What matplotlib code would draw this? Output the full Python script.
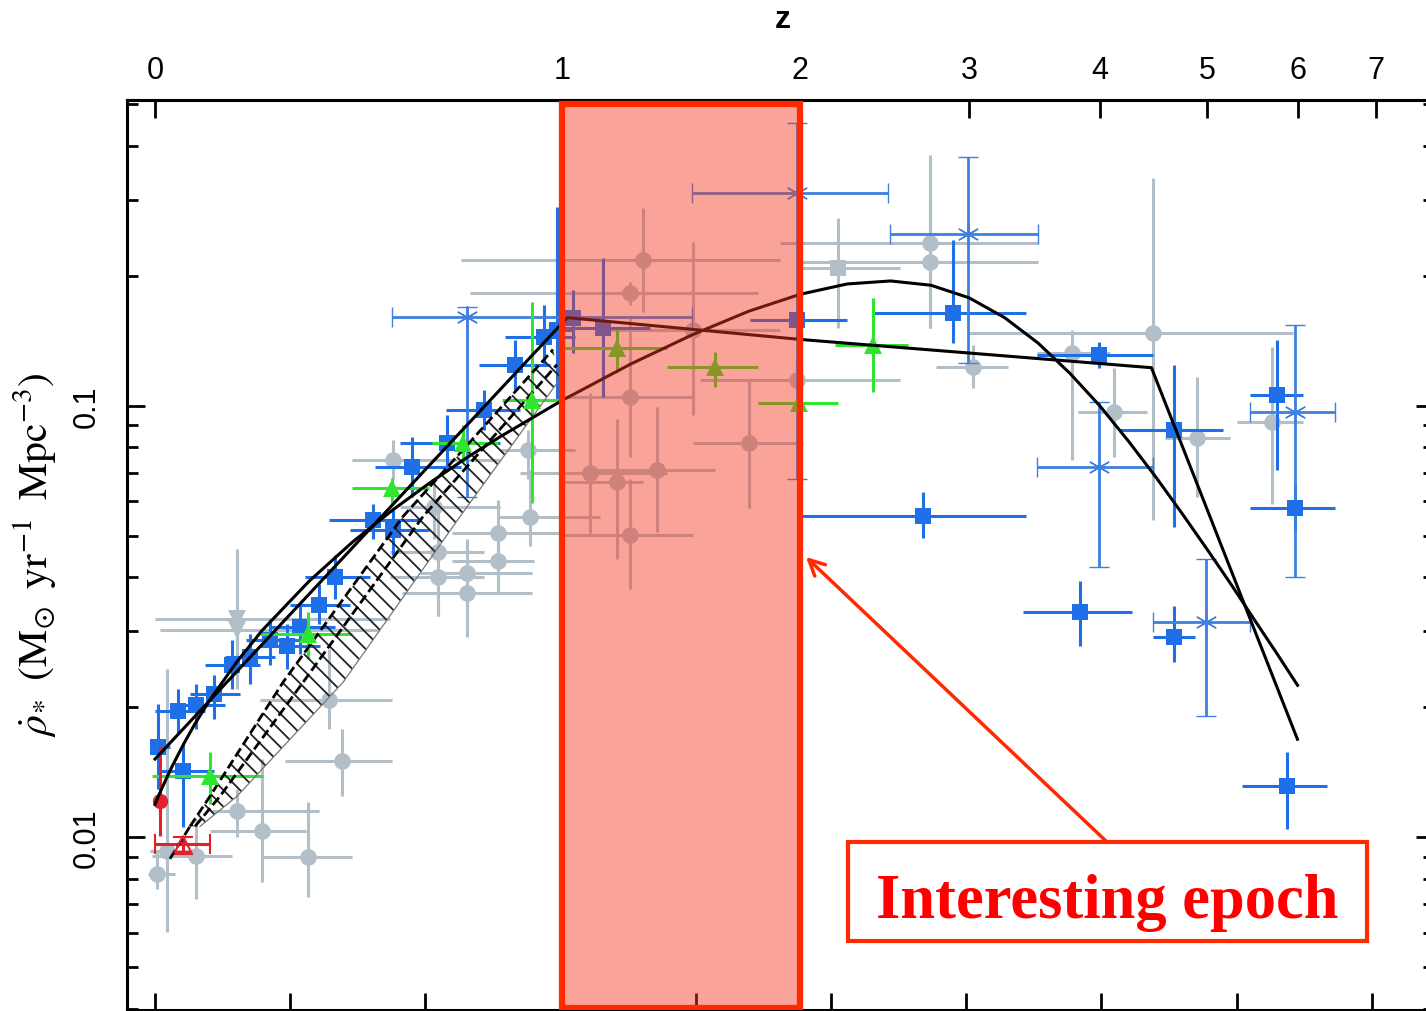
import numpy as np
import matplotlib
matplotlib.use("Agg")
import matplotlib.pyplot as plt
import matplotlib.transforms as mtransforms
from matplotlib.patches import Rectangle
from matplotlib.ticker import LogLocator, NullFormatter, FixedLocator

plt.rcParams['font.family'] = ['Liberation Sans', 'DejaVu Sans']
plt.rcParams['mathtext.fontset'] = 'stix'
plt.rcParams['hatch.linewidth'] = 1.3

# columns: log10(1+z), lower, upper, log10(rho_sfr), upper, lower
blue_sq = np.array([
    [0.002, -0.004, 0.011, -1.792, -1.692, -1.889],
    [0.021, 0.004, 0.044, -1.847, -1.785, -1.977],
    [0.017, 0.000, 0.037, -1.708, -1.657, -1.762],
    [0.030, 0.011, 0.052, -1.694, -1.646, -1.750],
    [0.044, 0.026, 0.063, -1.669, -1.623, -1.727],
    [0.057, 0.037, 0.078, -1.600, -1.542, -1.657],
    [0.070, 0.052, 0.089, -1.583, -1.530, -1.646],
    [0.085, 0.067, 0.107, -1.542, -1.495, -1.600],
    [0.098, 0.078, 0.122, -1.558, -1.507, -1.611],
    [0.107, 0.085, 0.133, -1.514, -1.461, -1.576],
    [0.121, 0.100, 0.144, -1.461, -1.414, -1.507],
    [0.133, 0.111, 0.159, -1.398, -1.345, -1.449],
    [0.161, 0.129, 0.196, -1.264, -1.229, -1.310],
    [0.176, 0.144, 0.203, -1.287, -1.241, -1.345],
    [0.190, 0.163, 0.226, -1.141, -1.072, -1.211],
    [0.216, 0.181, 0.255, -1.086, -1.021, -1.148],
    [0.243, 0.215, 0.270, -1.009, -0.963, -1.056],
    [0.266, 0.240, 0.292, -0.905, -0.847, -0.963],
    [0.288, 0.259, 0.311, -0.840, -0.766, -0.905],
    [0.297, 0.285, 0.310, -0.824, -0.539, -0.986],
    [0.309, 0.300, 0.329, -0.796, -0.732, -0.877],
    [0.331, 0.300, 0.366, -0.819, -0.657, -0.979],
    [0.475, 0.440, 0.512, -0.801, -0.773, -0.840],
    [0.590, 0.531, 0.644, -0.785, -0.616, -0.854],
    [0.698, 0.652, 0.738, -0.882, -0.852, -0.912],
    [0.754, 0.714, 0.790, -1.056, -0.905, -1.282],
    [0.830, 0.810, 0.849, -0.975, -0.847, -1.148],
    [0.843, 0.810, 0.873, -1.236, -1.183, -1.287],
    [0.568, 0.477, 0.644, -1.255, -1.201, -1.306],
    [0.684, 0.642, 0.723, -1.477, -1.407, -1.558],
    [0.754, 0.738, 0.769, -1.535, -1.465, -1.595],
    [0.837, 0.804, 0.867, -1.882, -1.803, -1.981],
])

blue_star = np.array([
    [0.231, 0.175, 0.397, -0.794, -0.771, -1.211],
    [0.475, 0.397, 0.542, -0.507, -0.345, -1.171],
    [0.601, 0.544, 0.653, -0.602, -0.424, -0.900],
    [0.698, 0.652, 0.738, -1.141, -0.991, -1.375],
    [0.843, 0.810, 0.873, -1.014, -0.813, -1.398],
    [0.777, 0.738, 0.810, -1.502, -1.356, -1.720],
])

green_tri = np.array([
    [0.041, -0.002, 0.080, -1.859, -1.803, -1.924],
    [0.113, 0.078, 0.146, -1.530, -1.477, -1.588],
    [0.175, 0.146, 0.203, -1.190, -1.167, -1.229],
    [0.228, 0.205, 0.254, -1.086, -1.044, -1.130],
    [0.279, 0.257, 0.300, -0.986, -0.759, -1.225],
    [0.342, 0.300, 0.379, -0.866, -0.824, -0.921],
    [0.414, 0.379, 0.446, -0.910, -0.875, -0.956],
    [0.476, 0.446, 0.505, -0.993, -0.870, -1.113],
    [0.531, 0.503, 0.557, -0.859, -0.750, -0.968],
])

red_circ = np.array([
    [0.004, 0.000, 0.007, -1.917, -1.789, -1.998],
])
red_tri = np.array([
    [0.021, 0.000, 0.041, -2.016, -2.000, -2.039],
])

gray_circ = np.array([
    [0.0015, -0.005, 0.015, -2.086, -2.035, -2.120],
    [0.030, -0.002, 0.057, -2.044, -1.958, -2.144],
    [0.009, -0.004, 0.033, -2.032, -1.611, -2.220],
    [0.061, 0.041, 0.121, -1.940, -1.889, -2.000],
    [0.079, 0.041, 0.112, -1.986, -1.819, -2.104],
    [0.113, 0.079, 0.146, -2.046, -1.919, -2.139],
    [0.138, 0.096, 0.175, -1.824, -1.750, -1.905],
    [0.129, 0.078, 0.175, -1.681, -1.565, -1.750],
    [0.176, 0.146, 0.255, -1.125, -1.079, -1.171],
    [0.209, 0.174, 0.243, -1.340, -1.234, -1.488],
    [0.209, 0.174, 0.243, -1.396, -1.310, -1.488],
    [0.206, 0.181, 0.255, -1.234, -1.171, -1.310],
    [0.231, 0.196, 0.279, -1.387, -1.310, -1.472],
    [0.231, 0.183, 0.279, -1.433, -1.356, -1.535],
    [0.254, 0.220, 0.300, -1.294, -1.218, -1.403],
    [0.254, 0.220, 0.280, -1.361, -1.280, -1.433],
    [0.277, 0.253, 0.329, -1.257, -1.148, -1.326],
    [0.276, 0.255, 0.311, -1.102, -1.056, -1.171],
    [0.361, 0.226, 0.462, -0.662, -0.542, -0.782],
    [0.351, 0.233, 0.446, -0.738, -0.713, -0.766],
    [0.351, 0.300, 0.397, -0.979, -0.796, -1.120],
    [0.322, 0.270, 0.379, -1.155, -0.970, -1.294],
    [0.342, 0.300, 0.361, -1.178, -1.032, -1.356],
    [0.371, 0.322, 0.414, -1.148, -1.002, -1.292],
    [0.351, 0.300, 0.398, -1.299, -1.171, -1.426],
    [0.439, 0.398, 0.479, -1.086, -0.940, -1.236],
    [0.475, 0.403, 0.551, -0.940, -0.882, -0.986],
    [0.398, 0.329, 0.462, -0.824, -0.620, -1.021],
    [0.573, 0.462, 0.653, -0.623, -0.419, -0.819],
    [0.573, 0.477, 0.653, -0.667, -0.516, -0.819],
    [0.738, 0.601, 0.842, -0.831, -0.472, -1.264],
    [0.605, 0.578, 0.631, -0.910, -0.859, -0.958],
    [0.678, 0.652, 0.706, -0.877, -0.824, -1.125],
    [0.709, 0.683, 0.734, -1.014, -0.912, -1.120],
    [0.771, 0.747, 0.795, -1.074, -0.933, -1.211],
    [0.826, 0.800, 0.849, -1.037, -0.863, -1.229],
])
gray_sq = np.array([
    [0.505, 0.477, 0.551, -0.681, -0.565, -0.819],
])
gray_tri = np.array([
    [0.061, 0.000, 0.174, -1.495, -1.333, -1.657],
    [0.061, 0.004, 0.166, -1.519, -1.472, -1.565],
])

# broken power-law fit
fit_broken_lz = [0.000, 0.305, 0.479, 0.737, 0.845]
fit_broken_lr = [-1.819, -0.796, -0.847, -0.912, -1.773]

# smooth fit
fit_smooth_lz = [0.000, 0.0043, 0.0086, 0.0128, 0.0212, 0.0294, 0.0414, 0.0607, 0.0792,
                 0.1139, 0.1461, 0.1761, 0.2041, 0.2304, 0.2553, 0.3010, 0.3522, 0.3979,
                 0.4393, 0.4771, 0.5119, 0.5441, 0.5740, 0.6021, 0.6284, 0.6532, 0.6767,
                 0.6990, 0.7202, 0.7404, 0.7597, 0.7782, 0.7959, 0.8129, 0.8293, 0.8451]
fit_smooth_lr = [-1.924, -1.892, -1.863, -1.835, -1.784, -1.738, -1.678, -1.593, -1.521,
                 -1.407, -1.316, -1.241, -1.177, -1.121, -1.072, -0.988, -0.903, -0.835,
                 -0.781, -0.742, -0.718, -0.711, -0.721, -0.750, -0.796, -0.855, -0.925,
                 -1.001, -1.083, -1.166, -1.250, -1.333, -1.414, -1.495, -1.572, -1.648]

# hatched band: two dashed upper lines and the lower edge
band_up_lz = [0.0259, 0.0407, 0.0947, 0.1834, 0.2944]
band_up_lr = [-1.975, -1.905, -1.641, -1.257, -0.870]
band_mid_lz = [0.0296, 0.0481, 0.1095, 0.1982, 0.2973]
band_mid_lr = [-1.975, -1.905, -1.641, -1.257, -0.905]
band_lo_lz = [0.0333, 0.0607, 0.1391, 0.2256, 0.2722, 0.2996]
band_lo_lr = [-1.975, -1.905, -1.641, -1.257, -1.056, -0.938]
band_tail_lz = [0.0111, 0.0259]
band_tail_lr = [-2.050, -1.975]

z_ticks = [0, 1, 2, 3, 4, 5, 6, 7]
epoch = (1.0, 2.0)

W, H = 1426, 1012
fig = plt.figure(figsize=(W / 100, H / 100), dpi=100)
ax = fig.add_axes([127 / W, 1 / H, 1307 / W, 910 / H])
ax.set_yscale('log')
ax.set_xlim((127 - 155) / 1352, (1434 - 155) / 1352)
ax.set_ylim(10 ** (-1 - (1011 - 406) / 432), 10 ** (-1 + (406 - 100) / 432))


def points(rows, color, marker, ms, zorder, mew=0, elw=2.2, mfc=None):
    lz, lz_lo, lz_hi, lr, lr_hi, lr_lo = rows.T
    rho = 10 ** lr
    ax.errorbar(lz, rho, xerr=[lz - lz_lo, lz_hi - lz],
                yerr=[rho - 10 ** lr_lo, 10 ** lr_hi - rho],
                fmt='', marker=marker, ls='none', ms=ms, color=color,
                mfc=mfc or color, mec=color, mew=mew,
                elinewidth=elw, capsize=7, capthick=elw, zorder=zorder)


gray = '#b3bfc8'
blue = '#1f6fe8'
green = '#2fe62f'
points(gray_circ, gray, 'o', 12, 2)
points(gray_sq, gray, 's', 11, 2)
points(gray_tri, gray, 'v', 13, 2)
points(blue_sq, blue, 's', 11, 3)
points(blue_star, '#3d80e0', (6, 2, 0), 16, 3, mew=1.0, elw=2.0, mfc='none')
points(green_tri, green, '^', 13, 4)
points(red_circ, '#e5202a', 'o', 11, 4)
points(red_tri, '#e5202a', '^', 11, 4, mfc='none', mew=1.5)

# hatched band
bx = np.r_[band_up_lz, band_lo_lz[::-1]]
by = 10 ** np.r_[band_up_lr, band_lo_lr[::-1]]
ax.fill(bx, by, facecolor='none', edgecolor='#222222', hatch='\\\\', lw=0, zorder=4)
ax.plot(band_lo_lz, 10 ** np.array(band_lo_lr), color='#777777', lw=0.9, zorder=4)
for bz, br in [(band_up_lz, band_up_lr), (band_mid_lz, band_mid_lr), (band_tail_lz, band_tail_lr)]:
    ax.plot(bz, 10 ** np.array(br), color='black', lw=2, ls=(0, (3.5, 1.5)), zorder=4)

ax.plot(fit_broken_lz, 10 ** np.array(fit_broken_lr), color='black', lw=2.2, zorder=5)
ax.plot(fit_smooth_lz, 10 ** np.array(fit_smooth_lr), color='black', lw=2.2, zorder=5)

# epoch box
trans = mtransforms.blended_transform_factory(ax.transData, ax.transAxes)
x0, x1 = np.log10(1 + epoch[0]), np.log10(1 + epoch[1])
ax.add_patch(Rectangle((x0, 0.002), x1 - x0, 0.994, transform=trans,
                       facecolor=(0.95, 0.22, 0.13), alpha=0.46, lw=0, zorder=6))
ax.add_patch(Rectangle((x0, 0.002), x1 - x0, 0.994, transform=trans,
                       facecolor='none', edgecolor='#ff2a00', lw=4.5, zorder=7))

# ticks
ax.set_xticks(np.arange(0, 1.0, 0.1))
ax.tick_params(axis='x', which='major', direction='in', length=12, width=2,
               bottom=True, top=False, labelbottom=False)
ax.set_yticks([0.01, 0.1])
ax.set_yticklabels(['0.01', '0.1'], rotation=90, va='center', fontsize=22)
ax.yaxis.set_minor_locator(LogLocator(base=10, subs=np.arange(2, 10)))
ax.yaxis.set_minor_formatter(NullFormatter())
ax.tick_params(axis='y', which='major', direction='in', length=13, width=2,
               left=True, right=True, pad=18)
ax.tick_params(axis='y', which='minor', direction='in', length=8, width=2,
               left=True, right=True)
for s in ax.spines.values():
    s.set_linewidth(2.2)

sec = ax.secondary_xaxis('top', functions=(lambda x: 10 ** x - 1,
                                           lambda z: np.log10(1 + np.clip(z, -0.99, None))))
sec.xaxis.set_major_locator(FixedLocator(z_ticks))
sec.set_xticklabels([str(z) for z in z_ticks], fontsize=22)
sec.tick_params(direction='in', length=13, width=2, pad=11)
sec.spines['top'].set_linewidth(2.2)

fig.text(783 / W, 1 - 20 / H, 'z', ha='center', va='center', fontsize=23, fontweight='bold')
fig.text(35 / W, 1 - 555 / H,
         r'$\dot{\rho}_{*}\;\;(\mathrm{M}_{\odot}\;\;\mathrm{yr}^{-1}\;\;\mathrm{Mpc}^{-3})$',
         rotation=90, ha='center', va='center', fontsize=30)

# annotation
fig.add_artist(Rectangle((848 / W, 1 - 942 / H), 519 / W, 99 / H, transform=fig.transFigure,
                         facecolor='white', edgecolor='#ff2a00', lw=3))
fig.text(1107 / W, 1 - 918 / H, 'Interesting epoch', ha='center', va='baseline',
         color='#ff0000', fontsize=45, fontweight='bold', family='Liberation Serif')
ax.annotate('', xy=(806 / W, 1 - 558 / H), xycoords='figure fraction',
            xytext=(1107 / W, 1 - 843 / H), textcoords='figure fraction',
            arrowprops=dict(arrowstyle='->', color='#ff2a00', lw=2.5, mutation_scale=28,
                            shrinkA=0, shrinkB=0))

fig.savefig('out.png', dpi=100)
